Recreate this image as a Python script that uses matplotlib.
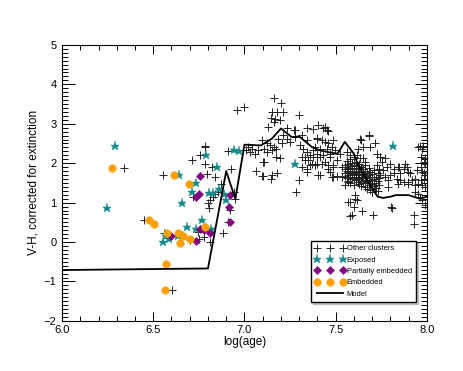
import matplotlib
matplotlib.use("Agg")
from matplotlib import pyplot as plt
from matplotlib.ticker import MultipleLocator

plt.rcParams['font.family'] = ['Liberation Sans', 'DejaVu Sans']

# model curve
model_x = [6.0, 6.80, 6.90, 6.95, 7.00, 7.09, 7.15, 7.20, 7.26, 7.30, 7.37, 7.41, 7.46, 7.51,
           7.55, 7.60, 7.62, 7.65, 7.69, 7.73, 7.76, 7.80, 7.83, 7.90, 7.96, 8.0]
model_y = [-0.71, -0.67, 1.80, 1.09, 2.47, 2.45, 2.62, 2.88, 2.66, 2.68, 2.41, 2.33, 2.28, 2.24,
           2.54, 2.24, 1.99, 1.74, 1.44, 1.15, 1.12, 1.15, 1.19, 1.19, 1.10, 1.15]

exposed_x = [6.293, 6.249, 6.639, 6.734, 6.714, 6.657, 6.789, 6.847, 6.807, 6.829, 6.860, 6.887,
             6.898, 6.944, 6.972, 6.683, 6.765, 6.737, 6.816, 6.551, 6.569, 6.587, 6.633, 7.277, 7.813]
exposed_y = [2.43, 0.87, 1.71, 1.50, 1.26, 0.99, 2.22, 1.91, 1.25, 1.25, 1.34, 1.23,
             1.06, 2.33, 2.31, 0.37, 0.57, 0.34, 0.34, -0.01, 0.15, 0.08, 0.16, 1.99, 2.43]

partial_x = [6.758, 6.752, 6.737, 6.920, 6.917, 6.920, 6.756, 6.778, 6.811, 6.734, 6.597]
partial_y = [1.67, 1.21, 1.15, 1.19, 0.89, 0.50, 0.32, 0.30, 0.22, 0.03, 0.15]

embedded_x = [6.276, 6.611, 6.697, 6.479, 6.505, 6.576, 6.635, 6.664, 6.703, 6.646, 6.783, 6.569, 6.562]
embedded_y = [1.88, 1.70, 1.48, 0.57, 0.46, 0.22, 0.24, 0.15, 0.07, -0.02, 0.37, -0.56, -1.22]

others_young = [
    (6.342, 1.88), (6.450, 0.57), (6.602, -1.22), (6.554, 1.70), (6.558, 0.22), (6.715, 2.07),
    (6.781, 2.41), (6.786, 2.43), (6.783, 1.99), (6.756, 2.22), (6.823, 1.91), (6.796, 1.72),
    (6.838, 1.65), (6.908, 2.31), (6.926, 1.86), (6.719, 1.15), (6.80, 0.98), (6.813, 1.06),
    (6.826, 1.13), (6.84, 1.21), (6.805, 0.87), (6.853, 1.26), (6.92, 0.81), (6.91, 0.52),
    (6.884, 0.22), (6.75, 0.09), (6.81, -0.01), (6.745, 0.26), (6.66, 0.18), (6.70, 0.04),
    (6.957, 3.34), (6.999, 3.42), (6.944, 1.27), (6.95, 1.09), (6.87, 1.48), (6.78, 0.14),
]
others_mid = [
    (7.160, 3.65), (7.199, 3.53), (7.151, 3.30), (7.177, 3.30), (7.213, 3.31), (7.30, 3.21),
    (7.144, 3.14), (7.169, 3.13), (7.195, 3.10), (7.16, 3.04), (7.131, 2.92), (7.232, 2.89),
    (7.277, 2.85), (7.341, 2.88), (7.378, 2.86), (7.396, 2.62), (7.094, 2.58), (7.122, 2.50),
    (7.14, 2.45), (7.16, 2.41), (7.173, 2.37), (7.185, 2.62), (7.213, 2.71), (7.232, 2.62),
    (7.25, 2.54), (7.204, 2.50), (7.008, 2.33), (7.03, 2.28), (7.058, 2.24), (7.076, 2.33),
    (7.107, 2.37), (7.122, 2.28), (7.149, 2.33), (7.173, 2.16), (7.195, 2.12), (7.107, 2.03),
    (7.063, 1.80), (7.10, 1.68), (7.149, 1.70), (7.177, 1.74), (7.144, 1.61), (7.30, 1.57),
    (7.283, 1.26), (7.305, 2.45), (7.323, 2.37), (7.341, 2.28), (7.36, 2.20), (7.378, 2.16),
    (7.396, 2.24), (7.332, 2.16), (7.35, 2.07), (7.369, 1.99), (7.387, 1.95), (7.314, 1.90),
    (7.341, 1.86), (7.405, 1.71), (7.374, 2.33), (7.277, 2.66), (7.314, 2.71), (7.341, 2.58),
    (7.094, 1.67), (7.103, 2.03), (7.04, 2.37), (7.02, 2.40), (7.272, 2.83),
]
others_old = [
    (7.405, 2.96), (7.432, 2.88), (7.46, 2.81), (7.442, 2.92), (7.451, 2.83), (7.488, 2.58),
    (7.396, 2.65), (7.424, 2.58), (7.442, 2.54), (7.46, 2.50), (7.478, 2.41), (7.451, 2.37),
    (7.414, 2.37), (7.387, 2.41), (7.497, 2.33), (7.469, 2.24), (7.432, 2.20), (7.396, 2.16),
    (7.424, 1.97), (7.46, 1.95), (7.488, 1.90), (7.405, 1.70), (7.469, 1.78), (7.478, 1.65),
    (7.506, 1.68), (7.533, 1.65), (7.314, 2.16), (7.332, 2.07), (7.36, 1.95), (7.396, 1.99),
    (7.414, 2.16), (7.442, 2.03), (7.469, 2.16), (7.488, 1.95), (7.488, 1.65), (7.414, 1.69),
    (7.341, 1.78), (7.46, 1.86), (7.506, 2.07), (7.524, 2.24), (7.533, 1.91),
    (7.634, 2.61), (7.68, 2.69), (7.652, 2.41), (7.625, 2.37), (7.561, 2.28), (7.58, 2.20),
    (7.598, 2.16), (7.616, 2.22), (7.634, 2.12), (7.652, 2.12), (7.661, 2.03),
    (7.606, 1.19), (7.616, 1.06), (7.58, 1.02), (7.598, 0.89), (7.588, 0.68), (7.643, 0.78),
    (7.707, 0.68), (7.552, 1.44), (7.57, 1.53), (7.698, 1.27), (7.716, 1.36),
    (7.93, 0.69), (7.808, 0.87), (7.579, 0.67), (7.57, 1.02), (7.605, 1.08),
]
others_cluster = [
    (7.55, 1.95), (7.55, 1.85), (7.55, 1.75), (7.55, 1.68), (7.56, 2.05), (7.56, 1.90),
    (7.56, 1.80), (7.56, 1.62), (7.57, 1.98), (7.57, 1.88), (7.57, 1.78), (7.57, 1.70),
    (7.57, 1.55), (7.58, 2.10), (7.58, 1.92), (7.58, 1.84), (7.58, 1.76), (7.58, 1.66),
    (7.58, 1.50), (7.59, 2.00), (7.59, 1.86), (7.59, 1.80), (7.59, 1.72), (7.59, 1.60),
    (7.60, 1.95), (7.60, 1.88), (7.60, 1.78), (7.60, 1.70), (7.60, 1.62), (7.60, 1.45),
    (7.61, 2.02), (7.61, 1.85), (7.61, 1.75), (7.61, 1.66), (7.61, 1.58), (7.62, 1.92),
    (7.62, 1.80), (7.62, 1.72), (7.62, 1.64), (7.62, 1.52), (7.63, 1.98), (7.63, 1.88),
    (7.63, 1.70), (7.63, 1.60), (7.63, 1.48), (7.64, 1.90), (7.64, 1.78), (7.64, 1.66),
    (7.64, 1.55), (7.64, 1.42), (7.65, 1.85), (7.65, 1.72), (7.65, 1.62), (7.65, 1.50),
    (7.66, 1.95), (7.66, 1.80), (7.66, 1.68), (7.66, 1.58), (7.66, 1.40), (7.67, 1.75),
    (7.67, 1.62), (7.67, 1.52), (7.67, 1.35), (7.68, 1.88), (7.68, 1.70), (7.68, 1.56),
    (7.68, 1.45), (7.69, 1.78), (7.69, 1.64), (7.69, 1.50), (7.69, 1.32), (7.70, 1.72),
    (7.70, 1.58), (7.70, 1.46), (7.70, 1.28), (7.71, 1.82), (7.71, 1.60), (7.71, 1.42),
    (7.72, 1.66), (7.72, 1.50), (7.72, 1.36), (7.73, 1.74), (7.73, 1.55), (7.73, 1.30),
    (7.74, 1.62), (7.74, 1.45),
]
others_right = [
    (7.725, 2.24), (7.744, 2.16), (7.771, 2.12), (7.753, 2.03), (7.725, 1.95), (7.735, 1.86),
    (7.762, 1.82), (7.744, 1.69), (7.771, 1.65), (7.798, 1.69), (7.789, 1.57), (7.789, 1.40),
    (7.817, 1.86), (7.844, 1.90), (7.872, 1.86), (7.89, 1.90), (7.899, 1.78), (7.853, 1.74),
    (7.835, 1.61), (7.844, 1.48), (7.872, 1.53), (7.899, 1.53), (7.918, 1.57), (7.936, 1.61),
    (7.954, 1.48), (7.973, 1.44), (7.982, 1.57), (7.991, 1.69), (7.973, 1.78), (7.982, 2.03),
    (7.991, 2.12), (7.954, 2.41), (7.973, 2.37), (7.936, 1.27), (7.954, 1.23), (7.963, 1.15),
    (7.973, 1.06), (7.991, 0.94), (7.927, 0.47), (7.804, 0.89), (7.798, 1.99),
    (7.96, 2.43), (7.978, 2.43), (7.97, 2.16), (7.99, 1.99), (7.97, 1.91), (7.945, 1.82),
    (7.985, 1.74), (7.967, 1.57), (7.936, 1.44), (7.99, 1.40), (7.88, 1.99), (7.845, 1.91),
    (7.817, 1.74), (7.853, 1.57), (7.899, 1.48), (7.909, 1.74), (7.78, 1.91), (7.744, 2.16),
    (7.726, 2.24), (7.716, 2.50), (7.69, 2.41), (7.64, 2.58), (7.68, 2.71),
]


def main():
    fig = plt.figure(figsize=(4.63, 3.71), dpi=100)
    ax = fig.add_axes([0.134, 0.135, 0.788, 0.744])

    others = others_young + others_mid + others_old + others_cluster + others_right
    ox, oy = zip(*others)
    ax.plot(ox, oy, '+', color='#222222', ms=5.5, mew=0.7, label='Other clusters')
    ax.plot(exposed_x, exposed_y, '*', color='#138a8a', ms=6.5, mew=0.3, label='Exposed')
    ax.plot(partial_x, partial_y, 'D', color='#800080', ms=4.2, mew=0.4, label='Partially embedded')
    ax.plot(embedded_x, embedded_y, 'o', color='#ffa000', ms=5.5, mew=0.3, label='Embedded')
    ax.plot(model_x, model_y, '-', color='black', lw=1.3, label='Model')

    ax.set_xlim(6.0, 8.0)
    ax.set_ylim(-2, 5)
    ax.xaxis.set_major_locator(MultipleLocator(0.5))
    ax.xaxis.set_minor_locator(MultipleLocator(0.1))
    ax.yaxis.set_major_locator(MultipleLocator(1))
    ax.yaxis.set_minor_locator(MultipleLocator(0.1))
    ax.xaxis.set_major_formatter(plt.FormatStrFormatter('%.1f'))
    ax.tick_params(which='both', direction='in', top=True, right=True, width=0.7, labelsize=8)
    ax.tick_params(axis='x', which='major', length=6.8, pad=3)
    ax.tick_params(axis='x', which='minor', length=3.6)
    ax.tick_params(axis='y', which='major', length=9, pad=4)
    ax.tick_params(axis='y', which='minor', length=4.6)
    for sp in ax.spines.values():
        sp.set_linewidth(0.8)

    ax.set_xlabel('log(age)', fontsize=8.5, labelpad=1)
    ax.set_ylabel('V-H, corrected for extinction', fontsize=8.5, labelpad=3)

    leg = ax.legend(loc='lower left', bbox_to_anchor=(0.672, 0.055), numpoints=3, fontsize=5.4,
                    handlelength=4.0, handletextpad=0.2, labelspacing=0.55, borderpad=0.55,
                    fancybox=False, framealpha=1, edgecolor='black',
                    shadow={'ox': 1.5, 'oy': -1.5, 'color': '0.6'})
    leg.get_frame().set_linewidth(1.0)

    fig.savefig('out.png', dpi=100)


if __name__ == '__main__':
    main()
